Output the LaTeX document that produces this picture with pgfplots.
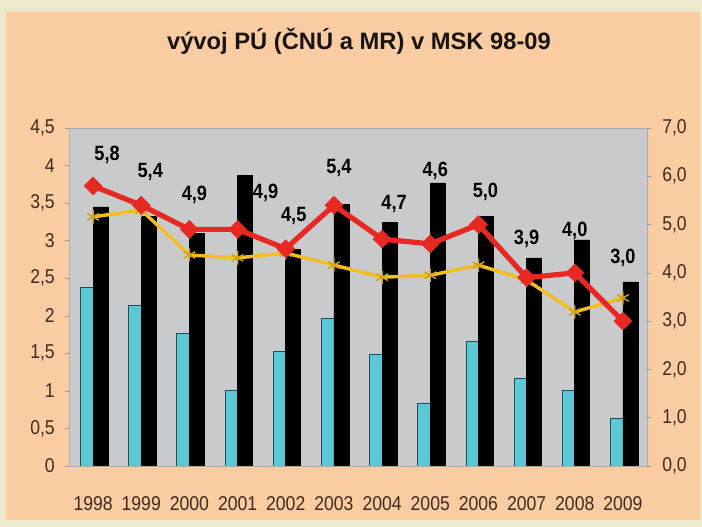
\documentclass[border=0pt]{standalone}
\usepackage{fontspec}
\setmainfont{Liberation Sans}
\newfontfamily\narrowf[FakeStretch=0.88]{Liberation Sans}
\usepackage{pgfplots}
\usepackage{pgfplotstable}
\pgfplotsset{compat=1.18}
\definecolor{outerc}{RGB}{236,233,204}
\definecolor{peach}{RGB}{250,204,162}
\definecolor{plotgray}{RGB}{201,202,204}
\definecolor{cyanbar}{RGB}{92,200,214}
\definecolor{cyanedge}{RGB}{30,80,90}
\definecolor{redc}{RGB}{232,40,35}
\definecolor{yelc}{RGB}{242,190,35}
\definecolor{tickc}{RGB}{65,42,28}
\definecolor{titlec}{RGB}{25,20,20}

\pgfplotstableread{
x cyan black
0 2.38 3.45
1 2.14 3.32
2 1.77 3.10
3 1.00 3.87
4 1.52 2.88
5 1.97 3.48
6 1.49 3.24
7 0.84 3.77
8 1.66 3.32
9 1.17 2.77
10 1.00 3.01
11 0.63 2.45
}\bars

\pgfplotstableread{
x y lab dx dy
0 5.8 5,8 14 31
1 5.4 5,4 9 33
2 4.9 4,9 5 35
3 4.9 4,9 28 37
4 4.5 4,5 8 33
5 5.4 5,4 5 37
6 4.7 4,7 12 35
7 4.6 4,6 5 73
8 5.0 5,0 7 33
9 3.9 3,9 0 39
10 4.0 4,0 0 42
11 3.0 3,0 0 63
}\redt

\pgfplotstableread{
x y
0 5.16
1 5.30
2 4.37
3 4.31
4 4.41
5 4.16
6 3.91
7 3.95
8 4.16
9 3.85
10 3.19
11 3.48
}\yelt

\begin{document}
\begin{tikzpicture}
\fill[outerc] (0,0) rectangle (526.5pt,395.25pt);
\fill[peach] (4.5pt,5.25pt) rectangle (525pt,386.25pt);
\node[anchor=base, inner sep=0pt, font=\fontsize{17.8}{20}\selectfont\bfseries, text=titlec] at (269.25pt,357.75pt) {vývoj PÚ (ČNÚ a MR) v MSK 98-09};

\begin{axis}[
  at={(51.75pt,45.75pt)}, anchor=south west,
  scale only axis, width=433.5pt, height=253.5pt,
  xmin=-0.5, xmax=11.5, ymin=0, ymax=4.5,
  axis background/.style={fill=plotgray},
  axis line style={draw=plotgray!85!black, line width=0.4pt},
  xtick={0,...,11},
  xticklabels={1998,1999,2000,2001,2002,2003,2004,2005,2006,2007,2008,2009},
  xtick style={draw=none},
  ytick={0,0.5,...,4.5},
  yticklabels={0,{0,5},1,{1,5},2,{2,5},3,{3,5},4,{4,5}},
  ytick pos=left, xtick pos=bottom,
  ytick style={draw=gray!80, line width=0.4pt},
  tick align=outside, major tick length=3pt,
  tick label style={font=\narrowf\fontsize{15}{17}\selectfont, text=tickc},
  yticklabel style={inner sep=0pt, xshift=-7.5pt},
  xticklabel style={inner sep=0pt, anchor=north, yshift=-19.5pt},
]
\addplot[ybar, bar width=0.26, bar shift=-0.13, fill=cyanbar, draw=cyanedge, line width=0.6pt] table[x=x,y=cyan] {\bars};
\addplot[ybar, bar width=0.31, bar shift=0.155, fill=black, draw=black] table[x=x,y=black] {\bars};
\end{axis}

\begin{axis}[
  at={(51.75pt,45.75pt)}, anchor=south west,
  scale only axis, width=433.5pt, height=253.5pt,
  xmin=-0.5, xmax=11.5, ymin=0, ymax=7,
  hide x axis,
  axis line style={draw=none},
  ytick={0,...,7},
  ytick pos=right, yticklabel pos=right,
  ytick style={draw=gray!80, line width=0.4pt},
  tick align=outside, major tick length=3pt,
  yticklabel={\pgfmathprintnumber[fixed,fixed zerofill,precision=1,use comma,assume math mode=true]{\tick}},
  tick label style={font=\narrowf\fontsize{15}{17}\selectfont, text=tickc},
  yticklabel style={inner sep=0pt, xshift=8.25pt},
]
\addplot[yelc, line width=2.6pt, mark=asterisk, mark size=5pt, mark options={line width=1.1pt, draw=yelc!85!black}] table[x=x,y=y] {\yelt};
\addplot[redc, line width=3.9pt, mark=square*, mark size=4.8pt,
  mark options={rotate=45, fill=redc, draw=redc, line width=0.3pt},
  point meta=explicit symbolic,
  visualization depends on={\thisrow{dx} \as \dx},
  visualization depends on={\thisrow{dy} \as \dy},
  nodes near coords,
  every node near coord/.append style={anchor=center, inner sep=0pt, xshift=\dx*0.75pt, yshift=\dy*0.75pt, font=\narrowf\bfseries\fontsize{15.5}{17}\selectfont, text=black}
] table[x=x,y=y,meta=lab] {\redt};
\end{axis}
\end{tikzpicture}
\end{document}
